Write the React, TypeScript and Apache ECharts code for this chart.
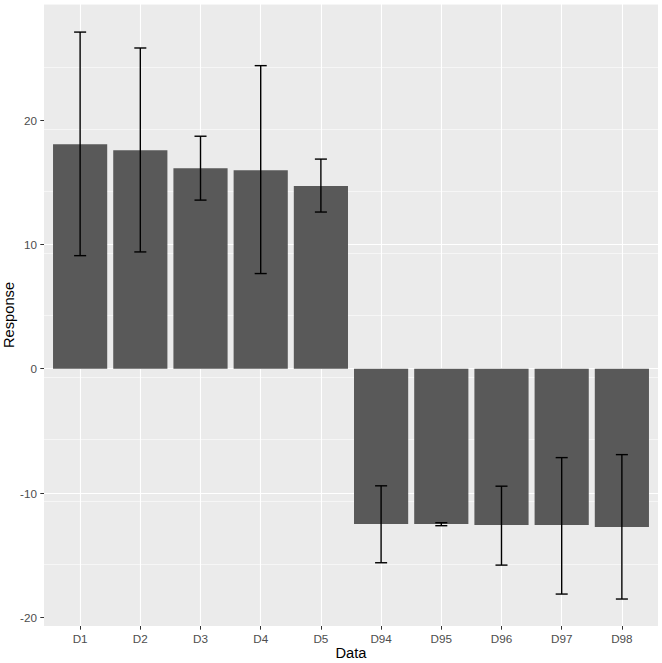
import React, { useEffect, useRef } from "react";
import * as echarts from "echarts";

const categories = ["D1", "D2", "D3", "D4", "D5", "D94", "D95", "D96", "D97", "D98"];
const responses = [18.07, 17.59, 16.14, 15.98, 14.7, -12.5, -12.5, -12.58, -12.58, -12.74];
const errLow = [9.1, 9.4, 13.57, 7.66, 12.61, -15.61, -12.63, -15.8, -18.13, -18.53];
const errHigh = [27.09, 25.81, 18.71, 24.39, 16.87, -9.42, -12.39, -9.45, -7.15, -6.91];
const yTicks = [-20, -10, 0, 10, 20];

const Y_MIN = -20.7;
const Y_MAX = 29.35;

export default function App() {
  const ref = useRef<HTMLDivElement>(null);
  useEffect(() => {
    if (!ref.current) return;
    const chart = echarts.init(ref.current, undefined, { renderer: "svg" });
    const panelLeft = 44;
    const panelRight = 4;
    const top = 4;
    const bottom = 37;
    const panelW = 662 - panelLeft - panelRight;
    const unit = panelW / (categories.length - 1 + 1.2);
    const innerLeft = panelLeft + 0.6 * unit;
    const innerRight = panelRight + 0.6 * unit;
    const font = "Liberation Sans, Arial, sans-serif";

    const errData = categories.map((c, i) => [i, errLow[i], errHigh[i]]);

    chart.setOption({
      animation: false,
      grid: [
        {
          left: panelLeft,
          right: panelRight,
          top,
          bottom,
          show: true,
          backgroundColor: "#EBEBEB",
          borderWidth: 0,
          containLabel: false,
          outerBoundsMode: "none",
        },
        {
          left: innerLeft,
          right: innerRight,
          top,
          bottom,
          containLabel: false,
          outerBoundsMode: "none",
        },
      ],
      xAxis: [
        {
          gridIndex: 0,
          type: "value",
          min: 0,
          max: 1,
          show: false,
        },
        {
          gridIndex: 1,
          type: "category",
          position: "bottom",
          data: categories,
          boundaryGap: false,
          axisLine: { show: false, onZero: false },
          axisTick: { show: true, length: 3.7, lineStyle: { color: "#333333", width: 1 } },
          axisLabel: { color: "#4D4D4D", fontSize: 11.7, fontFamily: font, margin: 6 },
          splitLine: { show: true, lineStyle: { color: "#FFFFFF", width: 1.1 } },
          name: "Data",
          nameLocation: "middle",
          nameGap: 19,
          nameMoveOverlap: false,
          nameTextStyle: { color: "#000000", fontSize: 14.7, fontFamily: font, verticalAlign: "top" },
        },
      ],
      yAxis: [
        {
          gridIndex: 0,
          type: "value",
          position: "left",
          min: Y_MIN,
          max: Y_MAX,
          interval: 5,
          axisLine: { show: false, onZero: false },
          axisTick: { show: false },
          axisLabel: { show: false },
          splitLine: {
            show: true,
            showMinLine: false,
            showMaxLine: false,
            lineStyle: { color: "#FFFFFF", width: 0.55 },
          },
        },
        {
          gridIndex: 0,
          type: "value",
          position: "left",
          offset: 0,
          min: Y_MIN,
          max: Y_MAX,
          interval: 10,
          axisLine: { show: false, onZero: false },
          axisTick: {
            show: true,
            length: 3.7,
            customValues: yTicks,
            lineStyle: { color: "#333333", width: 1 },
          },
          axisLabel: {
            color: "#4D4D4D",
            fontSize: 11.7,
            fontFamily: font,
            margin: 7,
            customValues: yTicks,
            formatter: (v: number) => String(Math.round(v)),
          },
          splitLine: {
            show: true,
            showMinLine: false,
            showMaxLine: false,
            lineStyle: { color: "#FFFFFF", width: 1.1 },
          },
          name: "Response",
          nameLocation: "middle",
          nameGap: 28,
          nameMoveOverlap: false,
          nameTextStyle: { color: "#000000", fontSize: 14.7, fontFamily: font },
        },
        {
          gridIndex: 1,
          type: "value",
          min: Y_MIN,
          max: Y_MAX,
          show: false,
          splitLine: { show: false },
        },
      ],
      series: [
        {
          type: "bar",
          xAxisIndex: 1,
          yAxisIndex: 2,
          data: responses,
          barWidth: "90%",
          clip: false,
          z: 2,
          itemStyle: { color: "#595959" },
          silent: true,
        },
        {
          type: "custom",
          xAxisIndex: 1,
          yAxisIndex: 2,
          clip: false,
          z: 5,
          data: errData,
          renderItem: (params: any, api: any) => {
            const x = api.value(0);
            const lo = api.coord([x, api.value(1)]);
            const hi = api.coord([x, api.value(2)]);
            const band = api.size([1, 0])[0];
            const hw = band * 0.1;
            const style = { stroke: "#000000", lineWidth: 1.4, fill: "none" };
            return {
              type: "group",
              children: [
                { type: "line", shape: { x1: hi[0], y1: hi[1], x2: lo[0], y2: lo[1] }, style },
                { type: "line", shape: { x1: hi[0] - hw, y1: hi[1], x2: hi[0] + hw, y2: hi[1] }, style },
                { type: "line", shape: { x1: lo[0] - hw, y1: lo[1], x2: lo[0] + hw, y2: lo[1] }, style },
              ],
            };
          },
        },
      ],
    });
    return () => chart.dispose();
  }, []);
  return <div ref={ref} style={{ width: 662, height: 663, position: "absolute", left: 0, top: 0 }} />;
}
